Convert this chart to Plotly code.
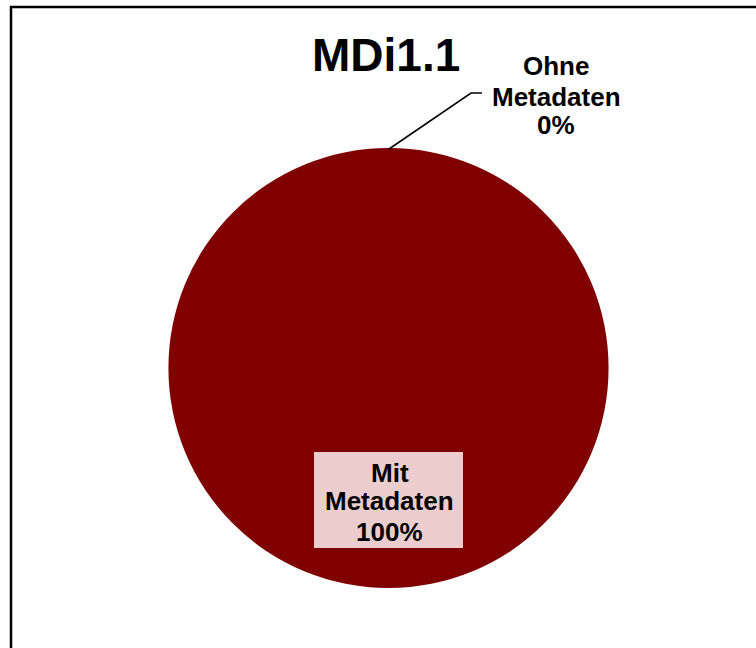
import plotly.graph_objects as go

title = "MDi1.1"
labels = ["Mit Metadaten", "Ohne Metadaten"]
values = [100, 0]
colors = ["#800000", "#9999ff"]

W, H = 756, 648
cx, cy, r = 388.5, 368, 220

total = sum(values)
pcts = [f"{round(v / total * 100)}%" for v in values]

def px(x):
    return x / W

def py(y):
    return 1 - y / H

fig = go.Figure()
fig.add_trace(go.Pie(
    labels=labels, values=values, sort=False, direction="clockwise", rotation=0,
    marker=dict(colors=colors, line=dict(width=0)),
    textinfo="none", hoverinfo="label+percent", showlegend=False,
    domain=dict(x=[px(cx - r), px(cx + r)], y=[py(cy + r), py(cy - r)]),
))

FAM = "Liberation Sans, Arial, sans-serif"
font = dict(family=FAM, size=26, color="black")

shapes = [
    # chart border
    dict(type="rect", xref="paper", yref="paper", x0=px(11), y0=-0.02, x1=1.02, y1=py(7),
         line=dict(color="black", width=2.5), fillcolor="rgba(0,0,0,0)"),
    # label box
    dict(type="rect", xref="paper", yref="paper", x0=px(314), y0=py(548), x1=px(463), y1=py(452),
         line=dict(width=0), fillcolor="#ebcdcd"),
    # leader line
    dict(type="path", xref="paper", yref="paper",
         path=f"M {px(389)} {py(149)} L {px(471)} {py(93)} L {px(482)} {py(93)}",
         line=dict(color="black", width=1.6)),
]

annotations = [
    dict(text=f"<b>{title}</b>", x=px(386), y=py(55), xref="paper", yref="paper",
         xanchor="center", yanchor="middle", showarrow=False,
         font=dict(family=FAM, size=46, color="black")),
]

def add_label(i, xc, ys):
    parts = labels[i].split(" ") + [pcts[i]]
    for t, yy in zip(parts, ys):
        annotations.append(dict(text=f"<b>{t}</b>", x=px(xc), y=py(yy), xref="paper", yref="paper",
                                xanchor="center", yanchor="middle", showarrow=False, font=font))

add_label(0, 389.5, [473, 501, 532])
add_label(1, 556, [66, 97, 125])

fig.update_layout(
    width=W, height=H, margin=dict(l=0, r=0, t=0, b=0),
    paper_bgcolor="white", plot_bgcolor="white",
    shapes=shapes, annotations=annotations,
)

fig.write_html("out.html", config={"displayModeBar": False},
               post_script="document.body.style.margin='0';")
